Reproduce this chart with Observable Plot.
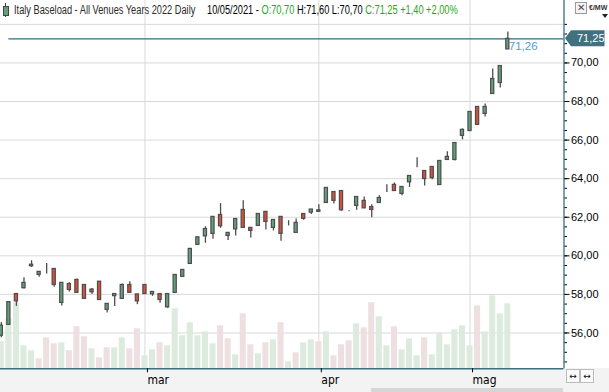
<!DOCTYPE html>
<html><head><meta charset="utf-8">
<script src="https://cdn.jsdelivr.net/npm/d3@7"></script>
<script src="https://cdn.jsdelivr.net/npm/@observablehq/plot@0.6"></script>
<style>
body{margin:0;background:#fff;}
#wrap{position:relative;width:609px;height:392px;overflow:hidden;background:linear-gradient(to bottom,#fff 0,#fff 368px,#f3f3f3 368px);font-family:"Liberation Sans",Arial,sans-serif;}
#wrap svg{position:absolute;left:0;top:0;}
.hdr{position:absolute;top:4px;white-space:nowrap;font-family:"Liberation Sans",Arial,sans-serif;font-size:12px;line-height:12px;transform:scaleX(0.77);transform-origin:0 0;}
.g{color:#1ea81e;}
.btn{position:absolute;top:369px;width:12px;height:12px;border:1px solid #bdbdbd;background:#fafafa;font-family:"DejaVu Sans",sans-serif;font-size:9px;line-height:12px;text-align:center;color:#111;}
</style></head><body><div id="wrap"></div>
<script>
// ---- data (index 0 = first visible session, early Feb 2021) ----
const opens  = [55.86,56.42,58.02,58.32,59.46,59.01,59.06,59.32,57.56,58.54,58.75,58.49,58.25,58.66,57.20,57.91,57.77,58.49,58.00,58.49,58.01,58.02,57.33,58.08,58.91,59.58,60.57,61.01,61.14,62.12,61.03,61.37,62.38,61.45,61.55,62.28,61.45,62.02,61.72,61.19,62.17,62.24,62.28,62.74,63.31,63.36,62.34,62.59,62.85,62.53,62.74,63.42,63.68,63.21,63.81,64.85,64.40,64.61,63.67,64.97,64.97,66.22,66.47,67.72,67.36,68.39,68.96,70.70];
const highs  = [56.55,57.62,58.05,58.87,59.75,59.17,59.60,59.32,58.60,58.61,58.80,58.49,58.31,58.66,57.51,58.02,58.54,58.66,58.00,58.49,58.13,58.02,58.02,59.01,59.27,60.36,60.96,61.51,62.02,62.71,61.19,61.91,62.86,61.45,62.17,62.28,61.86,62.02,61.82,61.91,62.17,62.40,62.65,63.52,63.31,63.36,62.34,63.05,63.05,62.65,63.11,63.68,63.78,63.57,64.14,65.09,64.40,64.61,64.92,65.39,65.85,66.58,67.46,67.72,67.87,69.69,69.84,71.60];
const lows   = [55.75,56.40,57.38,58.28,59.40,58.89,59.06,58.37,57.40,58.13,58.08,57.77,58.00,57.71,57.04,57.38,57.77,58.08,57.47,58.02,57.90,57.54,57.28,58.08,58.91,59.58,60.57,60.65,60.86,61.43,60.79,61.03,61.45,60.93,61.55,61.34,61.29,60.75,61.55,61.19,61.85,62.14,62.28,62.74,62.69,62.31,62.28,62.36,62.46,61.98,62.74,63.28,63.36,63.11,63.54,64.57,63.62,63.95,63.67,64.97,64.92,66.01,66.47,66.79,67.20,68.39,68.70,70.70];
const closes = [56.38,57.60,57.64,58.60,59.54,59.17,59.06,58.49,58.60,58.23,58.08,57.77,58.11,57.71,57.51,58.02,58.49,58.08,57.64,58.02,58.13,57.71,58.02,59.01,59.27,60.36,60.96,61.39,62.02,61.53,61.19,61.91,61.45,61.29,62.17,61.76,61.86,61.14,61.72,61.71,61.92,62.40,62.36,63.52,62.85,62.36,62.34,63.05,62.46,62.38,63.00,63.42,63.36,63.57,64.14,64.85,63.98,64.03,64.92,65.13,65.85,66.53,67.46,66.79,67.72,69.17,69.84,71.25];
const volumes= [27,50,66,23,18,10,31,25,26,18,42,32,20,11,21,21,31,20,40,13,19,26,23,60,33,46,33,37,25,43,30,14,55,24,15,26,29,46,7,16,26,29,27,37,13,24,28,45,41,66,52,23,42,19,30,13,31,14,36,24,39,43,23,63,37,73,55,65];
const monthTicks  = [19, 42, 62];
const monthLabels = ["mar", "apr", "mag"];
const priceTicks  = [56, 58, 60, 62, 64, 66, 68, 70];
const gridPrices  = [56, 58, 60, 62, 64, 66, 68, 70, 72];
const minorTicks  = d3.range(54.5, 72.01, 0.5);
const lastPrice = 71.25;
const lastPriceLabel = "71,25";
const cursorLabel = "71,26";

// ---- layout / style ----
const GREEN = "#62a07b", RED = "#d94f3b", EDGE = "#4d4d4d";
const VGREEN = "#dcebdd", VPINK = "#eedfe0";
const TEAL = "#3b6f80";
const xDomain = [-0.106, 74.43];
const yDomain = [54.144, 73.237];
const W = 609, H = 392;
const base = {width: W, height: H, marginLeft: 0, marginRight: 45.5, marginTop: 0, marginBottom: 23.7,
  style: {background: "transparent", fontFamily: "'Liberation Sans', Arial, sans-serif", fontSize: "11px", color: "#000", overflow: "visible"}};

const bars = opens.map((o, i) => ({i, open: o, high: highs[i], low: lows[i], close: closes[i], vol: volumes[i],
  up: closes[i] >= o, volUp: i === 0 || closes[i] >= closes[i - 1]}));

const wrap = document.getElementById("wrap");

// grid layer
const gridPlot = Plot.plot({...base,
  x: {domain: xDomain, axis: null}, y: {domain: yDomain, axis: null},
  marks: [
    Plot.ruleY(gridPrices, {stroke: "#d9d9d9", strokeWidth: 1}),
    Plot.ruleX(monthTicks, {stroke: "#d9d9d9", strokeWidth: 1})
  ]});
wrap.appendChild(gridPlot);

// volume layer
const volPlot = Plot.plot({...base,
  x: {domain: xDomain, axis: null}, y: {domain: [0, 100], range: [368.3, 268.3], axis: null},
  marks: [
    Plot.rectY(bars.filter(d => d.volUp), {x1: d => d.i - 0.4, x2: d => d.i + 0.4, y: "vol", fill: VGREEN}),
    Plot.rectY(bars.filter(d => !d.volUp), {x1: d => d.i - 0.4, x2: d => d.i + 0.4, y: "vol", fill: VPINK})
  ]});
wrap.appendChild(volPlot);

// price layer
const pricePlot = Plot.plot({...base,
  x: {domain: xDomain}, y: {domain: yDomain},
  marks: [
    Plot.ruleY([lastPrice], {x1: 1, x2: xDomain[1], stroke: "#2f6d82", strokeWidth: 1.2}),
    Plot.ruleX(bars, {x: "i", y1: "low", y2: "high", stroke: EDGE, strokeWidth: 1.3}),
    Plot.rect(bars.filter(d => d.up), {x1: d => d.i - 0.21, x2: d => d.i + 0.21, y1: "open", y2: "close", fill: GREEN, stroke: EDGE, strokeWidth: 1.2}),
    Plot.rect(bars.filter(d => !d.up), {x1: d => d.i - 0.21, x2: d => d.i + 0.21, y1: "open", y2: "close", fill: RED, stroke: EDGE, strokeWidth: 1.2}),
    Plot.ruleX([xDomain[1]], {stroke: TEAL, strokeWidth: 1.3}),
    Plot.ruleY([yDomain[0]], {stroke: TEAL, strokeWidth: 1.5}),
    Plot.axisY(minorTicks, {anchor: "right", tickSize: 2.5, tickFormat: () => "", label: null}),
    Plot.axisY(priceTicks, {anchor: "right", tickSize: 5, tickPadding: 2, label: null, fontSize: 11,
      tickFormat: d => d.toFixed(2).replace(".", ",")}),
    Plot.axisX(monthTicks, {anchor: "bottom", tickSize: 4, tickPadding: 2.5, label: null, textAnchor: "start", dx: 2.5,
      fontFamily: "'DejaVu Sans Condensed', 'Liberation Sans', sans-serif", fontSize: 12,
      tickFormat: d => monthLabels[monthTicks.indexOf(d)]}),
    Plot.text([bars.length - 1], {x: d => d, y: lastPrice, text: () => cursorLabel, dx: 1, dy: 7, textAnchor: "start", fill: "#4e9ed6", fontSize: 11.5})
  ]});
wrap.appendChild(pricePlot);

// last price tag on the right axis
{
  const ty = pricePlot.scale("y").apply(lastPrice);
  const x0 = pricePlot.scale("x").apply(xDomain[1]);
  const svg = d3.select(pricePlot);
  const l = x0 + 1.5, r = 604.5, h = 8;
  svg.append("path").attr("d", `M${l},${ty} L${l + 6},${ty - h} L${r},${ty - h} L${r},${ty + h} L${l + 6},${ty + h} Z`).attr("fill", "#41717f");
  svg.append("text").attr("x", 577).attr("y", ty + 4).attr("fill", "#fff").attr("text-anchor", "start")
    .attr("font-size", 11).attr("font-family", "'Liberation Sans', Arial, sans-serif").text(lastPriceLabel);
}

// header
wrap.insertAdjacentHTML("beforeend", `
<div style="position:absolute;left:5px;top:3px;width:1px;height:14px;background:#444"></div>
<div style="position:absolute;left:3px;top:6px;width:4px;height:8px;background:${GREEN};border:1px solid #444"></div>
<div class="hdr" style="left:14px;color:#2a2a2a">Italy Baseload - All Venues Years 2022 Daily</div>
<div class="hdr" style="left:207px;color:#000">10/05/2021 - <span class="g">O:70,70</span> H:71,60 L:70,70 <span class="g">C:71,25 +1,40 +2,00%</span></div>
<div style="position:absolute;left:575px;top:2px;width:10px;height:10px;border:1px solid #9a9a9a;background:#f4f4f4;font-size:10px;line-height:10px;text-align:center;color:#444">✕</div>
<div style="position:absolute;left:589px;top:4px;font-size:7px;font-weight:bold;color:#333;white-space:nowrap">€/MW</div>
<div style="position:absolute;left:602px;top:14px;width:0;height:0;border-left:3px solid transparent;border-right:3px solid transparent;border-top:4px solid #222"></div>
<div class="btn" style="left:566px">↔</div>
<div class="btn" style="left:580px">↔</div>
<div style="position:absolute;left:371px;top:388px;width:192px;height:4px;background:#d6d6d6"></div>
`);
</script>
</body></html>
